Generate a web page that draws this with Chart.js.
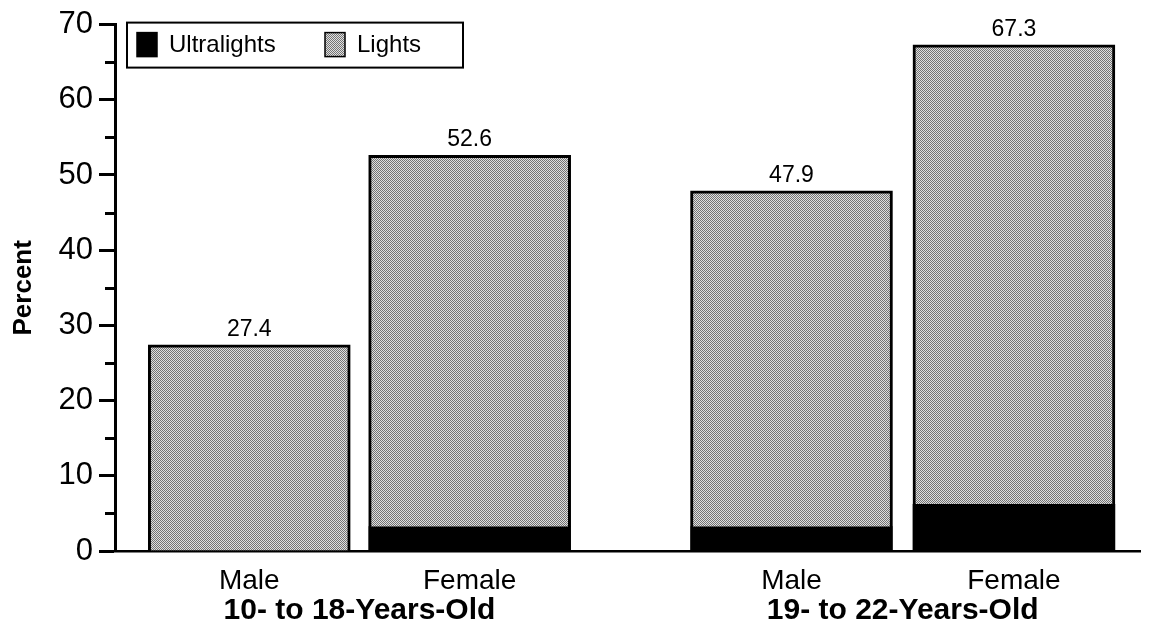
<!DOCTYPE html>
<html>
<head>
<meta charset="utf-8">
<script src="https://cdn.jsdelivr.net/npm/chart.js@4.4.0/dist/chart.umd.min.js"></script>
<style>
  body { margin: 0; background: #fff; }
  #wrap { width: 1150px; height: 635px; }
</style>
</head>
<body>
<div id="wrap"><canvas id="smokeChart" width="1150" height="635"></canvas></div>
<script>
// values
let groups = ['10- to 18-Years-Old', '19- to 22-Years-Old'];
let sexes = ['Male', 'Female', 'Male', 'Female'];
let totals = [27.4, 52.6, 47.9, 67.3];        // printed above each bar
let ultralights = [0, 3.2, 3.2, 6.2];
let lights = [27.4, 49.4, 44.7, 61.1];
let yTicks = [0, 10, 20, 30, 40, 50, 60, 70];
let minorTicks = [5, 15, 25, 35, 45, 55, 65];

// where the bars sit along the x axis (0..10 scale), and the group centres
let barCenters = [1.31, 3.46, 6.6, 8.77];
let groupCenters = [2.385, 7.685];

let font = "'Liberation Sans', Arial, Helvetica, sans-serif";

// stippled grey like the printed halftone
function stipple() {
    let c = document.createElement('canvas');
    c.width = 2; c.height = 2;
    let g = c.getContext('2d');
    g.fillStyle = '#e0e0e0';
    g.fillRect(0, 0, 2, 2);
    g.fillStyle = '#747474';
    g.fillRect(0, 0, 1, 1);
    g.fillRect(1, 1, 1, 1);
    return g.createPattern(c, 'repeat');
}
let grey = stipple();

let extras = {
    id: 'extras',
    afterDatasetsDraw(chart) {
        let ctx = chart.ctx;
        let area = chart.chartArea;
        let y = chart.scales.y;

        // minor ticks, shorter than the labelled ones
        ctx.save();
        ctx.strokeStyle = '#000';
        ctx.lineWidth = 3;
        minorTicks.forEach(v => {
            let py = Math.round(y.getPixelForValue(v)) + 0.5;
            ctx.beginPath();
            ctx.moveTo(area.left - 10, py);
            ctx.lineTo(area.left, py);
            ctx.stroke();
        });

        // totals above the bars
        ctx.fillStyle = '#000';
        ctx.font = '23px ' + font;
        ctx.textAlign = 'center';
        ctx.textBaseline = 'bottom';
        chart.getDatasetMeta(1).data.forEach((bar, i) => {
            ctx.fillText(totals[i].toFixed(1), bar.x, bar.y - 4);
        });

        // boxed legend in the top-left corner
        let lx = area.left + 12, ly = area.top - 2;
        ctx.fillStyle = '#fff';
        ctx.fillRect(lx, ly, 336, 45);
        ctx.lineWidth = 2;
        ctx.strokeStyle = '#000';
        ctx.strokeRect(lx, ly, 336, 45);
        ctx.font = '24px ' + font;
        ctx.textAlign = 'left';
        ctx.textBaseline = 'middle';
        let offsets = [10, 198];
        chart.data.datasets.forEach((ds, i) => {
            let sx = lx + offsets[i];
            ctx.fillStyle = ds.backgroundColor;
            ctx.fillRect(sx, ly + 10, 20, 24);
            ctx.lineWidth = 1.5;
            ctx.strokeRect(sx, ly + 10, 20, 24);
            ctx.fillStyle = '#000';
            ctx.fillText(ds.label, sx + 32, ly + 23);
        });
        ctx.restore();
    }
};

let toPoints = vals => vals.map((v, i) => ({ x: barCenters[i], y: v }));

new Chart(document.getElementById('smokeChart'), {
    type: 'bar',
    data: {
        datasets: [{
            label: 'Ultralights',
            data: toPoints(ultralights),
            backgroundColor: '#000',
            borderWidth: 0,
            barThickness: 202
        }, {
            label: 'Lights',
            data: toPoints(lights),
            backgroundColor: grey,
            borderColor: '#000',
            borderWidth: 3,
            barThickness: 202
        }]
    },
    options: {
        responsive: false,
        animation: false,
        layout: { padding: { top: 19, right: 10, left: 0, bottom: 0 } },
        plugins: { legend: { display: false }, tooltip: { enabled: false } },
        scales: {
            x: {
                type: 'linear',
                stacked: true,
                offset: false,
                min: 0, max: 10,
                afterBuildTicks: s => { s.ticks = barCenters.map(v => ({ value: v })); },
                afterFit: s => { s.height = 42; },
                grid: { display: false, drawTicks: false, offset: false },
                border: { color: '#000', width: 2.5 },
                ticks: {
                    autoSkip: false, maxRotation: 0, padding: 13, color: '#000',
                    font: { family: font, size: 28 },
                    callback: (v, i) => sexes[i]
                }
            },
            x2: {
                type: 'linear',
                position: 'bottom',
                weight: 1,
                offset: false,
                min: 0, max: 10,
                afterBuildTicks: s => { s.ticks = groupCenters.map(v => ({ value: v })); },
                afterFit: s => { s.height = 42; },
                grid: { display: false, drawTicks: false, offset: false },
                border: { display: false },
                ticks: {
                    autoSkip: false, maxRotation: 0, padding: 0, color: '#000',
                    font: { family: font, size: 30, weight: 'bold' },
                    callback: (v, i) => groups[i]
                }
            },
            y: {
                stacked: true,
                min: 0, max: 70,
                afterBuildTicks: s => { s.ticks = yTicks.map(v => ({ value: v })); },
                afterFit: s => { s.width = 115; },
                grid: { drawOnChartArea: false, tickLength: 16, tickWidth: 3, color: '#000' },
                border: { color: '#000', width: 3 },
                ticks: { padding: 6, color: '#000', font: { family: font, size: 31 } },
                title: {
                    display: true, text: 'Percent', color: '#000', padding: { top: 8, bottom: 0 },
                    font: { family: font, size: 26, weight: 'bold' }
                }
            }
        }
    },
    plugins: [extras]
});
</script>
</body>
</html>
